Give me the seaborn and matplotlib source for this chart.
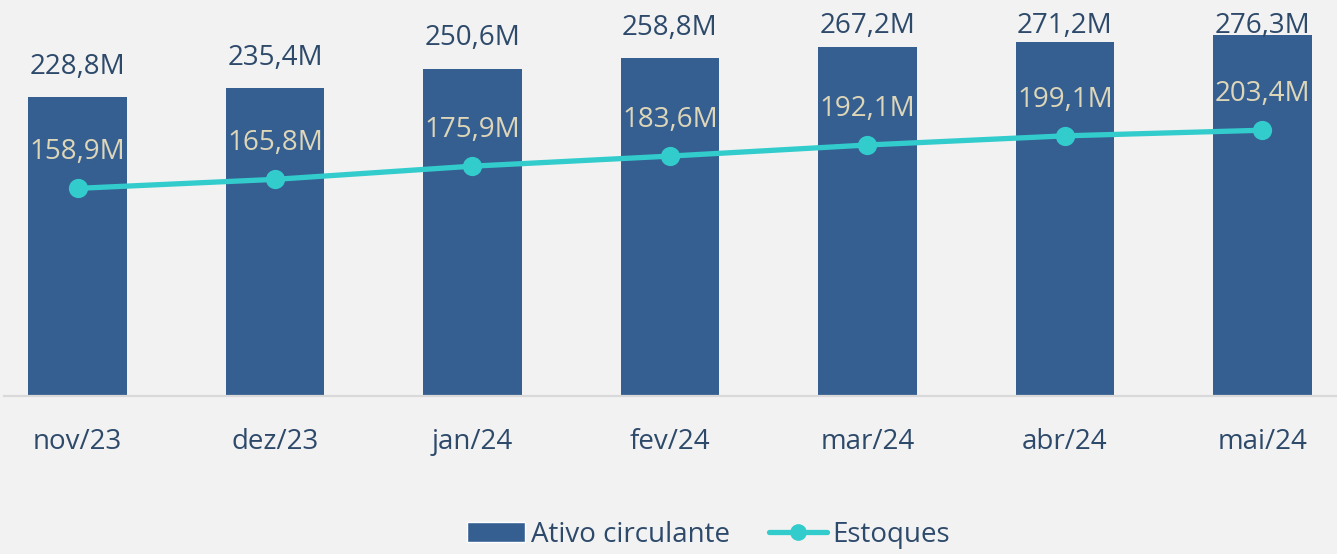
import matplotlib
matplotlib.use("Agg")
import matplotlib.pyplot as plt
import seaborn as sns
from matplotlib.patches import Patch
from matplotlib.lines import Line2D

meses = ["nov/23", "dez/23", "jan/24", "fev/24", "mar/24", "abr/24", "mai/24"]
ativo_circulante = [228.8, 235.4, 250.6, 258.8, 267.2, 271.2, 276.3]
estoques = [158.9, 165.8, 175.9, 183.6, 192.1, 199.1, 203.4]

cor_barra = "#365F91"
cor_linha = "#33CCCC"
cor_texto = "#2E4A6B"
cor_rotulo_linha = "#DDD6B8"
fundo = "#F2F2F2"

sns.set_theme(style="white")
plt.rcParams["font.family"] = ["Open Sans", "DejaVu Sans"]

fig = plt.figure(figsize=(13.37, 5.54), dpi=100, facecolor=fundo)
ax = fig.add_axes([4 / 1337, 158 / 554, 1333 / 1337, 392 / 554])
ax.set_facecolor(fundo)

sns.barplot(x=meses, y=ativo_circulante, color=cor_barra, width=0.5,
            saturation=1, linewidth=0, ax=ax)
sns.pointplot(x=meses, y=estoques, color=cor_linha, markers="o",
              linestyles="-", markersize=11, linewidth=3.8, ax=ax)

# rótulos das barras: acima da barra, mas presos ao topo da área do gráfico
for i, v in enumerate(ativo_circulante):
    ax.text(i, min(v + 23, 283.2), f"{v:.1f}M".replace(".", ","),
            ha="center", va="center", fontsize=20, color=cor_texto)
for i, v in enumerate(estoques):
    ax.annotate(f"{v:.1f}M".replace(".", ","), (i, v), xytext=(0, 16),
                textcoords="offset points", ha="center", va="bottom",
                fontsize=20, color=cor_rotulo_linha)

ax.set_xlim((4 - 77.5) / 197.5, (1337 - 77.5) / 197.5)
ax.set_ylim(0, 300)
ax.set_yticks([])
ax.set_xlabel("")
ax.set_ylabel("")
for s in ["top", "right", "left"]:
    ax.spines[s].set_visible(False)
ax.spines["bottom"].set_color("#D9D9D9")
ax.spines["bottom"].set_linewidth(1.6)
ax.tick_params(axis="x", length=0, pad=23, labelsize=20, labelcolor=cor_texto)

handles = [
    Patch(facecolor=cor_barra, label="Ativo circulante"),
    Line2D([], [], color=cor_linha, marker="o", linewidth=3.8, markersize=11,
           label="Estoques"),
]
fig.legend(handles=handles, loc="lower center", bbox_to_anchor=(0.53, -0.036),
           ncol=2, frameon=False, fontsize=20, labelcolor=cor_texto,
           handlelength=2.1, handletextpad=0.2, columnspacing=1.4)

fig.savefig("out.png", dpi=100, facecolor=fundo)
